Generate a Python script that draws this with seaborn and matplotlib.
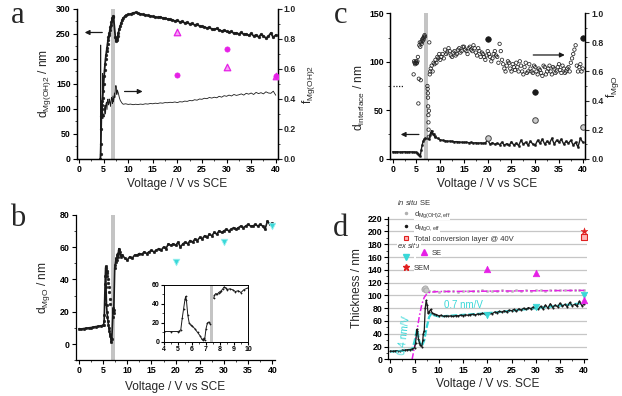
import numpy as np
import pandas as pd
import matplotlib
matplotlib.use('Agg')
import matplotlib.pyplot as plt
import seaborn as sns
from matplotlib.lines import Line2D
from matplotlib.ticker import MultipleLocator

sns.set_theme(style='ticks')
plt.rcParams['font.family'] = ['Liberation Sans', 'DejaVu Sans']
plt.rcParams['mathtext.fontset'] = 'custom'
plt.rcParams['mathtext.rm'] = 'Liberation Sans'
plt.rcParams['mathtext.it'] = 'Liberation Sans:italic'
plt.rcParams['mathtext.bf'] = 'Liberation Sans:bold'
plt.rcParams['axes.edgecolor'] = 'black'
plt.rcParams['axes.linewidth'] = 0.9

# ---------------- data ----------------
# Panel a: d_Mg(OH)2 (left) and f_Mg(OH)2 (right)
a_v = [4.35, 4.4, 4.45, 4.5, 4.55, 4.6, 4.65, 4.7, 4.8, 4.9, 5.0, 5.1, 5.2, 5.3, 5.4, 5.5, 5.6, 5.7,
       5.8, 5.9, 6.0, 6.1, 6.2, 6.3, 6.4, 6.5, 6.6, 6.7, 6.8, 6.9, 7.0,
       7.4, 7.5, 7.6, 7.7, 7.8, 7.9, 8.0, 8.2, 8.4, 8.6, 8.8, 9.0, 9.3, 9.6] + list(np.arange(10, 40.01, 0.5))
a_d = [0, 10, 30, 60, 85, 100, 108, 115, 122, 135, 150, 165, 178, 190, 200, 208, 215, 222,
       230, 237, 243, 248, 252, 258, 264, 268, 273, 278, 282, 284, 286,
       243, 238, 236, 238, 242, 246, 252, 260, 266, 272, 278, 282, 285, 287,
       289, 290, 292, 293, 291, 290, 289, 288, 287, 286, 285, 284, 283, 284, 282, 281, 280, 279, 278, 276,
       277, 274, 275, 272, 273, 270, 271, 268, 269, 266, 265, 264, 262, 263, 260, 259, 261, 258, 256, 257,
       255, 253, 255, 251, 252, 250, 253, 249, 250, 247, 251, 246, 248, 244, 249, 246, 242, 245, 252, 243, 248]
a_fv = [4.40, 4.42, 4.45, 4.5, 4.6, 4.7, 4.75, 4.78, 4.82, 4.9, 5.0, 5.1, 5.2, 5.3, 5.4, 5.5, 5.6, 5.7, 5.8, 5.9,
        6.0, 6.1, 6.2, 6.3, 6.4, 6.5, 6.6, 6.7, 6.8, 6.9, 7.0, 7.1, 7.2, 7.3, 7.4, 7.5, 7.6, 7.7, 7.8, 8.0,
        8.2, 8.4, 8.6, 8.8, 9.0, 9.5] + list(np.arange(10, 40.01, 0.5))
a_f = [0.0, 0.76, 0.2, 0.28, 0.3, 0.27, 0.32, 0.57, 0.3, 0.27, 0.3, 0.28, 0.33, 0.36, 0.3, 0.37, 0.38, 0.33, 0.39, 0.4,
       0.36, 0.37, 0.4, 0.38, 0.35, 0.38, 0.41, 0.4, 0.37, 0.42, 0.38, 0.4, 0.44, 0.41, 0.47, 0.49, 0.48, 0.43, 0.46, 0.44,
       0.41, 0.39, 0.38, 0.37, 0.365, 0.368,
       0.364, 0.366, 0.362, 0.365, 0.363, 0.366, 0.364, 0.368, 0.366, 0.37,
       0.368, 0.372, 0.37, 0.374, 0.372, 0.376, 0.375, 0.378, 0.377, 0.38,
       0.376, 0.382, 0.38, 0.386, 0.384, 0.39, 0.388, 0.395, 0.392, 0.4,
       0.398, 0.405, 0.402, 0.41, 0.406, 0.412, 0.408, 0.418, 0.412, 0.422,
       0.418, 0.426, 0.42, 0.43, 0.424, 0.428, 0.434, 0.426, 0.438, 0.432,
       0.44, 0.43, 0.444, 0.436, 0.442, 0.434, 0.448, 0.44, 0.438, 0.452, 0.425]
a_exs_v = [20, 30, 40]
a_tri_f = [0.845, 0.615, 0.555]
a_circ_f = [0.56, 0.73, 0.555]

# Panel b: d_MgO
b_v = [0, 0.5, 1, 1.5, 2, 2.5, 3, 3.5, 4, 4.5, 5, 5.1, 5.2, 5.25, 5.3, 5.35, 5.4, 5.45, 5.5, 5.55,
       5.6, 5.7, 5.8, 5.9, 6.0, 6.1, 6.2, 6.3, 6.4, 6.5, 6.6, 6.7, 6.8, 7.0, 7.05, 7.1, 7.15, 7.2,
       7.4, 7.5, 7.6, 7.7, 7.8, 7.9, 8.0, 8.1, 8.2, 8.3, 8.4, 8.6, 8.8, 9.0, 9.5] + list(np.arange(10, 40.01, 0.5))
b_d = [9.5, 9.3, 9.6, 9.8, 10.0, 10.2, 10.5, 10.8, 11.0, 11.3, 11.5, 12, 14, 18, 25, 31, 37, 42, 46, 48,
       35, 24, 20, 17, 14, 12, 10, 8, 6, 5, 4, 1, 3, 17, 20, 22, 19, 21,
       47, 49, 51, 53, 52, 55, 56, 54, 58, 59, 57, 55, 54, 55, 53,
       52, 54, 53, 55, 55, 56, 55.5, 57, 56, 57,
       58, 57, 58, 59, 58, 60, 59, 62, 61, 62,
       61, 63, 60, 62, 63, 62, 64, 63, 65, 64,
       66, 65, 67, 66, 68, 67, 69, 68, 70, 69,
       70, 71, 70, 71, 72, 71, 72, 73, 72, 73,
       74, 73, 73, 74, 73, 74, 73, 71, 76, 74, 75]
b_sv = [5.6, 5.7, 5.8, 5.9, 6.0, 6.1, 6.2, 6.3, 6.4, 6.5]
b_sd = [47, 45, 44, 42, 40, 38, 35, 32, 28, 25]
b_exs_v = [20, 30, 40]
b_exs_d = [51, 63, 73]
in_v = [4.0, 4.5, 5.0, 5.1, 5.2, 5.3, 5.4, 5.5, 5.55, 5.6, 5.7, 5.8, 5.9, 6.0, 6.2, 6.4, 6.6, 6.7, 6.8, 6.85,
        6.9, 7.0, 7.1, 7.2, 7.3, 7.55, 7.6, 7.7, 7.8, 7.9, 8.0, 8.1, 8.2, 8.3, 8.4, 8.5, 8.7, 8.9, 9.1, 9.3,
        9.5, 9.7, 10.0]
in_d = [11, 11, 11, 11.5, 13, 25, 35, 45, 48, 44, 28, 20, 18, 17, 14, 10, 6, 3, 2, 4,
        2, 14, 20, 21, 19, 46, 49, 51, 50, 52, 53, 54, 56, 58, 57, 55, 56, 55, 53, 54,
        52, 55, 57]

# Panel c: d_interface (left) and f_MgO (right)
c_dv = [0, 0.5, 1, 1.5, 2, 2.5, 3, 3.5, 4, 4.5, 5, 5.2, 5.4, 5.6, 5.8, 6.0, 6.2, 6.4, 6.6, 6.8,
        7.6, 7.8, 8.0, 8.2, 8.4, 8.6, 8.8, 9.0, 9.5] + list(np.arange(10, 40.01, 0.5))
c_d = [7.2, 7.0, 7.1, 6.9, 7.0, 7.2, 6.9, 7.1, 7.0, 6.8, 6.5, 6.0, 5.0, 3.5, 2.5, 9, 14, 18, 20, 21,
       20, 24, 27, 29, 26, 25, 23, 22, 21,
       19.5, 19, 18.5, 18, 18.2, 17.8, 17.5, 17.6, 17.2, 17,
       16.8, 17, 16.5, 16.8, 16.2, 16.5, 16, 16.4, 15.8, 16.5,
       19, 15, 16.5, 14.8, 16, 14.5, 17, 14, 15.5, 13.8,
       17.5, 14, 16, 13.5, 19, 15, 17, 14, 18, 15,
       14, 19, 16, 20, 15, 18, 16, 21, 15, 19,
       17, 20, 15, 18, 16, 19, 14, 17, 12, 21, 17]
c_fv = [4.4, 4.5, 4.6, 4.7, 4.8, 4.9, 5.0, 5.1, 5.2, 5.3, 5.4, 5.5, 5.6, 5.7, 5.8, 5.9, 6.0, 6.1, 6.2, 6.3,
        6.4, 6.5, 6.6, 6.7, 6.8, 7.3, 7.35, 7.4, 7.42, 7.45, 7.5, 7.52, 7.55, 7.6, 7.62, 7.7, 7.8, 7.9, 8.0, 8.2,
        8.4, 8.6, 8.8, 9.0, 9.2, 9.4, 9.6, 9.8] + list(np.arange(10, 40.01, 0.5)) + list(np.arange(10.25, 40, 0.5))
c_f = [0.58, 0.67, 0.66, 0.65, 0.66, 0.67, 0.655, 0.66, 0.67, 0.7, 0.38, 0.55, 0.78, 0.8, 0.77, 0.54, 0.8, 0.79, 0.82, 0.81,
       0.83, 0.82, 0.84, 0.85, 0.84, 0.5, 0.48, 0.45, 0.42, 0.36, 0.3, 0.25, 0.2, 0.15, 0.33, 0.8, 0.58, 0.6, 0.62, 0.64,
       0.6, 0.66, 0.65, 0.68, 0.66, 0.7, 0.69, 0.72,
       0.68, 0.72, 0.75, 0.73, 0.74, 0.7, 0.74, 0.72, 0.76, 0.74,
       0.77, 0.74, 0.76, 0.75, 0.78, 0.73, 0.76, 0.7, 0.72, 0.68,
       0.74, 0.7, 0.69, 0.74, 0.7, 0.79, 0.68, 0.62, 0.64, 0.66,
       0.6, 0.63, 0.66, 0.6, 0.64, 0.58, 0.66, 0.6, 0.62, 0.59,
       0.63, 0.58, 0.61, 0.57, 0.63, 0.6, 0.64, 0.58, 0.62, 0.6,
       0.65, 0.59, 0.62, 0.6, 0.63, 0.66, 0.72, 0.78, 0.6, 0.65, 0.62,
       0.7, 0.69, 0.72, 0.76, 0.71, 0.73, 0.71, 0.75, 0.73, 0.77,
       0.75, 0.72, 0.77, 0.74, 0.76, 0.71, 0.74, 0.73, 0.7, 0.71,
       0.72, 0.67, 0.72, 0.71, 0.66, 0.74, 0.65, 0.6, 0.67, 0.62,
       0.65, 0.61, 0.63, 0.67, 0.6, 0.63, 0.59, 0.65, 0.6, 0.64,
       0.6, 0.62, 0.59, 0.64, 0.58, 0.62, 0.6, 0.63, 0.59, 0.63,
       0.61, 0.64, 0.59, 0.62, 0.6, 0.69, 0.75, 0.64, 0.63, 0.6]
c_dot_v = [0, 2.3]
c_dot_f = [0.5, 0.5]
c_exs_v = [20, 30, 40]
c_big_f = [0.82, 0.46, 0.83]
c_open_f = [0.14, 0.265, 0.22]

# Panel d: effective thicknesses
d_gv = list(np.arange(8, 40.01, 1.0))
d_g = [106.5, 107, 106, 107.5, 106.5, 107, 106, 107, 107.5, 106.5,
       107, 108, 107, 107.5, 107, 108, 107.5, 107, 108, 107.5,
       108, 107.5, 108.5, 108, 107.5, 108.5, 108, 109, 108, 108.5,
       108, 109, 108]
d_gbig_v = [6.9, 7.1, 7.3]
d_gbig = [110, 112, 109]
d_mv = [4.5, 5, 5.5, 6, 6.5, 7, 7.5, 8, 9, 10, 15, 20, 25, 30, 35, 40]
d_m = [0, 20, 45, 68, 86, 97, 102, 104.5, 105.5, 106, 106.3, 106.6, 106.9, 107.2, 107.5, 107.8]
d_bv = [0, 0.5, 1, 1.5, 2, 2.5, 3, 3.5, 4, 4.5, 5, 5.2, 5.4, 5.5, 5.6, 5.8, 6.0, 6.2, 6.5, 6.7,
        6.8, 7.0, 7.2, 7.4, 7.6, 7.8, 8.0, 8.3, 8.6, 9, 9.5] + list(np.arange(10, 40.01, 0.5))
d_b = [13, 12.5, 13, 13.5, 13, 14, 14.5, 15, 15, 16, 18, 25, 40, 47, 44, 32, 26, 22, 20, 30,
       40, 45, 80, 92, 85, 72, 74, 78, 73, 71, 70,
       68, 69, 67, 68, 67.5, 68, 67, 68.5, 68, 69,
       68.5, 69.5, 69, 70, 70.5, 69.5, 71, 70.5, 72, 71,
       72, 73, 71, 74, 73, 75, 74, 76, 74, 77,
       76, 78, 75, 79, 77, 80, 78, 81, 79, 82,
       80, 78, 83, 79, 85, 80, 87, 81, 85, 82,
       88, 83, 86, 82, 89, 84, 86, 83, 91, 84, 86]
d_cv = [0, 2, 4.5, 5.0, 5.5, 6.0, 6.5, 7.0, 7.5, 8.0, 8.5, 9, 10, 20, 30, 40]
d_c = [12, 13, 15.5, 28, 47, 28, 20, 30, 50, 66, 72, 69, 67, 72, 80, 88]
d_exs_v = [20, 30, 40]
d_se_cyan = [70, 82, 101]
d_se_mag = [142, 135, 92]
d_sem_v = [40]
d_sem = [200]
d_total_v = [40]
d_total = [192]

# ticks
v_ticks = [0, 5, 10, 15, 20, 25, 30, 35, 40]
frac_ticks = [0.0, 0.2, 0.4, 0.6, 0.8, 1.0]
frac_labels = ['0.0', '0.2', '0.4', '0.6', '0.8', '1.0']
a_ticks = [0, 50, 100, 150, 200, 250, 300]
b_ticks = [0, 20, 40, 60, 80]
c_ticks = [0, 50, 100, 150]
d_ticks = list(range(0, 221, 20))
in_xticks = [4, 5, 6, 7, 8, 9, 10]
in_yticks = [0, 20, 40, 60]

# ---------------- style ----------------
CYAN = '#3ad8d8'
MAG = '#e620e6'
RED = '#e02020'
BAND = '#c4c4c4'
TFS = 6.3
LFS = 8.6

fig = plt.figure(figsize=(6.22, 3.96), dpi=100)

def style_ticks(ax, xt, yt, ylabels=None, xlabels=None, fs=TFS):
    ax.set_xticks(xt)
    ax.set_xticklabels(xlabels if xlabels is not None else [str(t) for t in xt], fontweight='bold', fontsize=fs)
    ax.set_yticks(yt)
    ax.set_yticklabels(ylabels if ylabels is not None else [str(t) for t in yt], fontweight='bold', fontsize=fs)
    ax.tick_params(which='major', direction='out', length=3, width=0.8, pad=1.5, colors='black')
    ax.tick_params(which='minor', direction='out', length=1.6, width=0.6)

def line(ax, x, y, **kw):
    sns.lineplot(x=x, y=y, ax=ax, estimator=None, sort=False, **kw)

# ================= panel a =================
ax_a = fig.add_axes([0.1238, 0.5985, 0.3227, 0.3788])
ax_a.axvspan(6.5, 7.4, color=BAND, lw=0, zorder=0)
line(ax_a, a_v, a_d, color='k', lw=1.3, marker='o', markersize=2.0, markeredgecolor='k', markeredgewidth=0.3)
ax_a.set_xlim(-0.4, 40.4)
ax_a.set_ylim(0, 300)
style_ticks(ax_a, v_ticks, a_ticks)
ax_a.xaxis.set_minor_locator(MultipleLocator(2.5))
ax_a.yaxis.set_minor_locator(MultipleLocator(25))
ax_a.spines['top'].set_visible(False)
ax_a.set_xlabel('Voltage / V vs SCE', fontsize=LFS)
ax_a.xaxis.set_label_coords(0.5, -0.13)
ax_a.set_ylabel(r'd$_{\mathrm{Mg(OH)2}}$ / nm', fontsize=LFS)
ax_a.yaxis.set_label_coords(-0.12, 0.5)
ax_a.annotate('', xy=(0.6, 253), xytext=(5.3, 253),
              arrowprops=dict(arrowstyle='-|>', color='k', lw=0.9, mutation_scale=7))
ax_a.annotate('', xy=(13.5, 135), xytext=(8.7, 135),
              arrowprops=dict(arrowstyle='-|>', color='k', lw=0.9, mutation_scale=7))

ax_a2 = ax_a.twinx()
line(ax_a2, a_fv, a_f, color='k', lw=0.6)
sns.scatterplot(x=a_exs_v, y=a_tri_f, ax=ax_a2, marker='^', s=22, color='#f4a0f4', edgecolor=MAG, linewidth=0.9, zorder=5)
sns.scatterplot(x=a_exs_v, y=a_circ_f, ax=ax_a2, marker='o', s=14, color=MAG, edgecolor=MAG, linewidth=0.5, zorder=5)
ax_a2.set_ylim(0, 1.0)
ax_a2.set_xlim(-0.4, 40.4)
ax_a2.set_yticks(frac_ticks)
ax_a2.set_yticklabels(frac_labels, fontweight='bold', fontsize=TFS)
ax_a2.yaxis.set_minor_locator(MultipleLocator(0.1))
ax_a2.tick_params(which='major', direction='out', length=3, width=0.8, pad=1.5)
ax_a2.tick_params(which='minor', direction='out', length=1.6, width=0.6)
ax_a2.spines['top'].set_visible(False)
ax_a2.set_ylabel(r'f$_{\mathrm{Mg(OH)2}}$', fontsize=LFS)
ax_a2.yaxis.set_label_coords(1.11, 0.5)

# ================= panel c =================
ax_c = fig.add_axes([0.6268, 0.5992, 0.3139, 0.3672])
ax_c.axvspan(6.5, 7.4, color=BAND, lw=0, zorder=0)
line(ax_c, c_dv, c_d, color='k', lw=1.0, marker='o', markersize=1.6, markeredgecolor='k', markeredgewidth=0.3)
ax_c.set_xlim(-0.6, 40.5)
ax_c.set_ylim(0, 150)
style_ticks(ax_c, v_ticks, c_ticks)
ax_c.xaxis.set_minor_locator(MultipleLocator(2.5))
ax_c.yaxis.set_minor_locator(MultipleLocator(25))
ax_c.spines['top'].set_visible(False)
ax_c.set_xlabel('Voltage / V vs SCE', fontsize=LFS)
ax_c.xaxis.set_label_coords(0.5, -0.13)
ax_c.set_ylabel(r'd$_{\mathrm{interface}}$ / nm', fontsize=LFS)
ax_c.yaxis.set_label_coords(-0.115, 0.42)
ax_c.annotate('', xy=(1.1, 25), xytext=(6.1, 25),
              arrowprops=dict(arrowstyle='-|>', color='k', lw=0.9, mutation_scale=7))
ax_c.annotate('', xy=(36.8, 107), xytext=(29.0, 107),
              arrowprops=dict(arrowstyle='-|>', color='k', lw=0.9, mutation_scale=7))

ax_c2 = ax_c.twinx()
sns.scatterplot(x=c_fv, y=c_f, ax=ax_c2, marker='o', s=6, color='none', edgecolor='#222222', linewidth=0.55)
line(ax_c2, c_dot_v, c_dot_f, color='k', lw=0.9, linestyle=(0, (1, 1.2)))
sns.scatterplot(x=c_exs_v, y=c_big_f, ax=ax_c2, marker='o', s=16, color='k', edgecolor='k', linewidth=0.5)
sns.scatterplot(x=c_exs_v, y=c_open_f, ax=ax_c2, marker='o', s=16, color='#cccccc', edgecolor='#444444', linewidth=0.7)
ax_c2.set_ylim(0, 1.0)
ax_c2.set_xlim(-0.6, 40.5)
ax_c2.set_yticks(frac_ticks)
ax_c2.set_yticklabels(frac_labels, fontweight='bold', fontsize=TFS)
ax_c2.yaxis.set_minor_locator(MultipleLocator(0.1))
ax_c2.tick_params(which='major', direction='out', length=3, width=0.8, pad=1.5)
ax_c2.tick_params(which='minor', direction='out', length=1.6, width=0.6)
ax_c2.spines['top'].set_visible(False)
ax_c2.set_ylabel(r'f$_{\mathrm{MgO}}$', fontsize=LFS)
ax_c2.yaxis.set_label_coords(1.095, 0.5)

# ================= panel b =================
ax_b = fig.add_axes([0.1223, 0.0904, 0.3193, 0.3674])
ax_b.axvspan(6.6, 7.4, color=BAND, lw=0, zorder=0)
line(ax_b, b_v, b_d, color='k', lw=1.2, marker='o', markersize=1.9, markeredgecolor='k', markeredgewidth=0.3)
sns.scatterplot(x=b_sv, y=b_sd, ax=ax_b, marker='o', s=4, color='k', edgecolor='k', linewidth=0.3)
sns.scatterplot(x=b_exs_v, y=b_exs_d, ax=ax_b, marker='v', s=22, color=CYAN, edgecolor='#9af0f0', linewidth=0.6, zorder=5)
ax_b.set_xlim(-0.6, 40.5)
ax_b.set_ylim(-10, 80)
style_ticks(ax_b, v_ticks, b_ticks)
ax_b.xaxis.set_minor_locator(MultipleLocator(2.5))
ax_b.yaxis.set_minor_locator(MultipleLocator(10))
ax_b.spines['top'].set_visible(False)
ax_b.spines['right'].set_visible(False)
ax_b.set_xlabel('Voltage / V vs SCE', fontsize=LFS)
ax_b.xaxis.set_label_coords(0.5, -0.14)
ax_b.set_ylabel(r'd$_{\mathrm{MgO}}$ / nm', fontsize=LFS)
ax_b.yaxis.set_label_coords(-0.12, 0.5)

ax_in = fig.add_axes([0.2637, 0.1364, 0.135, 0.144])
ax_in.axvspan(7.3, 7.52, color=BAND, lw=0, zorder=0)
line(ax_in, in_v[:25], in_d[:25], color='k', lw=0.7, marker='o', markersize=1.0, markeredgecolor='k', markeredgewidth=0.2)
line(ax_in, in_v[25:], in_d[25:], color='k', lw=0.7, marker='o', markersize=1.0, markeredgecolor='k', markeredgewidth=0.2)
ax_in.set_xlim(4, 10)
ax_in.set_ylim(0, 60)
style_ticks(ax_in, in_xticks, in_yticks, fs=5.0)
ax_in.tick_params(which='major', length=2, pad=1)
ax_in.xaxis.set_minor_locator(MultipleLocator(0.5))
ax_in.yaxis.set_minor_locator(MultipleLocator(10))
for s in ax_in.spines.values():
    s.set_linewidth(0.7)

# ================= panel d =================
ax_d = fig.add_axes([0.6244, 0.0927, 0.3188, 0.3583])
ax_d.set_axisbelow(True)
ax_d.yaxis.grid(True, color='#c6c6c6', lw=0.9)
line(ax_d, d_mv, d_m, color=MAG, lw=1.1, linestyle=(0, (4, 1.5, 1, 1.5)))
sns.scatterplot(x=d_gv, y=d_g, ax=ax_d, marker='o', s=3, color='#b8b8b8', edgecolor='#b8b8b8', linewidth=0.3)
sns.scatterplot(x=d_gbig_v, y=d_gbig, ax=ax_d, marker='o', s=14, color='#c8c8c8', edgecolor='#a8a8a8', linewidth=0.6)
line(ax_d, d_cv, d_c, color=CYAN, lw=1.6, linestyle=(0, (3, 1)))
line(ax_d, d_bv, d_b, color='k', lw=0.9, marker='o', markersize=1.2, markeredgecolor='k', markeredgewidth=0.2)
sns.scatterplot(x=d_exs_v, y=d_se_cyan, ax=ax_d, marker='v', s=22, color=CYAN, edgecolor=CYAN, linewidth=0.5, zorder=5)
sns.scatterplot(x=d_exs_v, y=d_se_mag, ax=ax_d, marker='^', s=22, color=MAG, edgecolor=MAG, linewidth=0.5, zorder=5)
sns.scatterplot(x=d_sem_v, y=d_sem, ax=ax_d, marker='*', s=28, color=RED, edgecolor=RED, linewidth=0.3, zorder=5)
sns.scatterplot(x=d_total_v, y=d_total, ax=ax_d, marker='s', s=14, color='#ffb4b4', edgecolor=RED, linewidth=0.8, zorder=5)
ax_d.set_xlim(-0.4, 40.5)
ax_d.set_ylim(0, 222)
style_ticks(ax_d, v_ticks, d_ticks)
ax_d.xaxis.set_minor_locator(MultipleLocator(2.5))
ax_d.yaxis.set_minor_locator(MultipleLocator(10))
ax_d.spines['top'].set_visible(False)
ax_d.spines['right'].set_visible(False)
ax_d.set_xlabel('Voltage / V vs. SCE', fontsize=LFS)
ax_d.xaxis.set_label_coords(0.5, -0.13)
ax_d.set_ylabel('Thickness / nm', fontsize=LFS)
ax_d.yaxis.set_label_coords(-0.13, 0.5)
ax_d.text(3.0, 38, '0.4 nm/V', color=CYAN, fontsize=7, rotation=83, ha='center', va='center')
ax_d.text(15.0, 85, '0.7 nm/V', color=CYAN, fontsize=7, ha='center', va='center')

LEGFS = 5.5
TXTC = '#333333'
h_list = [Line2D([], [], ls='none', marker='.', color='#b0b0b0', ms=3),
          Line2D([], [], ls='none', marker='.', color='k', ms=3),
          Line2D([], [], ls='none', marker='s', mfc='#ffb4b4', mec=RED, ms=3.5, mew=0.8),
          Line2D([], [], ls='none'),
          Line2D([], [], ls='none', marker='v', color=CYAN, ms=4),
          Line2D([], [], ls='none', marker='*', color=RED, ms=4.5)]
l_list = [r'd$_{\mathrm{Mg(OH)2,eff}}$', r'd$_{\mathrm{MgO,eff}}$', 'Total conversion layer @ 40V', ' ', ' ', 'SEM']
leg1 = ax_d.legend(h_list, l_list, loc='upper left', bbox_to_anchor=(0.07, 1.058), frameon=False,
                   fontsize=LEGFS, handlelength=1.0, handletextpad=0.5, labelspacing=0.3,
                   borderpad=0, borderaxespad=0)
for t in leg1.get_texts():
    t.set_color(TXTC)
    t.set_bbox(dict(facecolor='white', edgecolor='none', pad=0.05))
ax_d.add_artist(leg1)
leg2 = ax_d.legend([Line2D([], [], ls='none', marker='^', color=MAG, ms=4)], ['SE'], loc='upper left',
                   bbox_to_anchor=(0.16, 0.775), frameon=False, fontsize=LEGFS, handlelength=1.0,
                   handletextpad=0.5, borderpad=0, borderaxespad=0)
for t in leg2.get_texts():
    t.set_color(TXTC)
    t.set_bbox(dict(facecolor='white', edgecolor='none', pad=0.05))
ax_d.text(0.043, 1.105, r'$\it{in\ situ}$ SE', transform=ax_d.transAxes, fontsize=LEGFS, color=TXTC,
          ha='left', va='center')
ax_d.text(0.043, 0.80, r'$\it{ex\ situ}$', transform=ax_d.transAxes, fontsize=LEGFS, color=TXTC,
          ha='left', va='center', bbox=dict(facecolor='white', edgecolor='none', pad=0.05))

# panel letters
for lab, x, y in [('a', 0.029, 0.962), ('b', 0.029, 0.449), ('c', 0.547, 0.962), ('d', 0.547, 0.424)]:
    fig.text(x, y, lab, fontsize=22, family='Liberation Serif', ha='center', va='center')

fig.savefig('out.png', dpi=100)
